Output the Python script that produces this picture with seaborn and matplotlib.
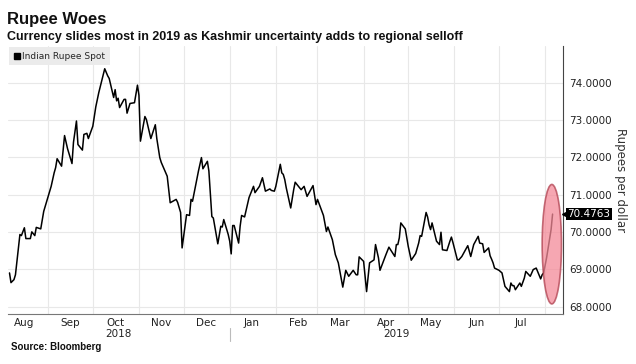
import pandas as pd
import seaborn as sns
import matplotlib.dates as mdates
from matplotlib import pyplot as plt
from matplotlib.lines import Line2D
from matplotlib.patches import Ellipse
from matplotlib.ticker import FormatStrFormatter, MultipleLocator, NullFormatter

# USD/INR spot
dates = [
    '2018-08-06', '2018-08-07', '2018-08-09', '2018-08-10', '2018-08-13', '2018-08-14', '2018-08-16',
    '2018-08-17', '2018-08-20', '2018-08-21', '2018-08-23', '2018-08-24', '2018-08-27', '2018-08-29',
    '2018-08-31',
    '2018-09-03', '2018-09-05', '2018-09-06', '2018-09-07', '2018-09-10', '2018-09-12', '2018-09-14',
    '2018-09-17', '2018-09-18', '2018-09-20', '2018-09-21', '2018-09-24', '2018-09-25', '2018-09-27',
    '2018-09-28',
    '2018-10-01', '2018-10-03', '2018-10-05', '2018-10-09', '2018-10-11', '2018-10-12', '2018-10-15',
    '2018-10-16', '2018-10-17', '2018-10-18', '2018-10-19', '2018-10-22', '2018-10-23', '2018-10-24',
    '2018-10-26', '2018-10-29', '2018-10-31',
    '2018-11-01', '2018-11-02', '2018-11-05', '2018-11-06', '2018-11-09', '2018-11-12', '2018-11-13',
    '2018-11-15', '2018-11-16', '2018-11-20', '2018-11-22', '2018-11-26', '2018-11-27', '2018-11-29',
    '2018-11-30',
    '2018-12-03', '2018-12-05', '2018-12-06', '2018-12-07', '2018-12-11', '2018-12-13', '2018-12-14',
    '2018-12-17', '2018-12-18', '2018-12-20', '2018-12-21', '2018-12-24', '2018-12-26', '2018-12-27',
    '2018-12-28', '2018-12-31',
    '2019-01-01', '2019-01-02', '2019-01-03', '2019-01-04', '2019-01-07', '2019-01-08', '2019-01-09',
    '2019-01-11', '2019-01-14', '2019-01-17', '2019-01-18', '2019-01-21', '2019-01-23', '2019-01-25',
    '2019-01-28', '2019-01-29', '2019-01-31',
    '2019-02-01', '2019-02-04', '2019-02-05', '2019-02-06', '2019-02-07', '2019-02-08', '2019-02-11',
    '2019-02-13', '2019-02-14', '2019-02-18', '2019-02-20', '2019-02-22', '2019-02-26', '2019-02-28',
    '2019-03-01', '2019-03-05', '2019-03-07', '2019-03-08', '2019-03-11', '2019-03-13', '2019-03-15',
    '2019-03-18', '2019-03-20', '2019-03-22', '2019-03-25', '2019-03-27', '2019-03-28', '2019-03-29',
    '2019-04-01', '2019-04-03', '2019-04-05', '2019-04-08', '2019-04-09', '2019-04-11', '2019-04-12',
    '2019-04-16', '2019-04-18', '2019-04-22', '2019-04-23', '2019-04-24', '2019-04-25', '2019-04-26',
    '2019-04-29',
    '2019-05-01', '2019-05-03', '2019-05-06', '2019-05-08', '2019-05-09', '2019-05-10', '2019-05-13',
    '2019-05-14', '2019-05-15', '2019-05-16', '2019-05-17', '2019-05-20', '2019-05-22', '2019-05-23',
    '2019-05-24', '2019-05-27', '2019-05-29', '2019-05-30', '2019-05-31',
    '2019-06-03', '2019-06-04', '2019-06-06', '2019-06-10', '2019-06-12', '2019-06-14', '2019-06-17',
    '2019-06-18', '2019-06-20', '2019-06-21', '2019-06-24', '2019-06-25', '2019-06-26', '2019-06-27',
    '2019-06-28',
    '2019-07-01', '2019-07-03', '2019-07-05', '2019-07-08', '2019-07-09', '2019-07-10', '2019-07-11',
    '2019-07-12', '2019-07-15', '2019-07-16', '2019-07-18', '2019-07-19', '2019-07-22', '2019-07-24',
    '2019-07-26', '2019-07-29', '2019-07-30', '2019-07-31',
    '2019-08-02', '2019-08-05', '2019-08-06',
]
rupee = [
    68.90, 68.64, 68.72, 68.85, 69.93, 69.90, 70.11, 69.82, 69.82, 70.00, 69.90, 70.12, 70.08, 70.55,
    70.82,
    71.22, 71.58, 71.72, 71.96, 71.76, 72.58, 72.23, 71.83, 72.40, 72.97, 72.34, 72.19, 72.61, 72.64,
    72.50,
    72.83, 73.35, 73.73, 74.37, 74.18, 74.11, 73.60, 73.81, 73.51, 73.58, 73.33, 73.55, 73.55, 73.18,
    73.44, 73.46, 73.93,
    73.66, 72.43, 73.09, 73.01, 72.50, 72.87, 72.50, 71.99, 71.86, 71.49, 70.78, 70.87, 70.79, 70.52,
    69.57,
    70.46, 70.44, 70.87, 70.82, 71.63, 71.99, 71.69, 71.89, 71.63, 70.41, 70.37, 69.68, 70.15, 70.13,
    70.33, 69.93,
    69.75, 69.41, 70.17, 70.17, 69.70, 70.15, 70.44, 70.40, 70.92, 71.22, 71.05, 71.22, 71.45, 71.09,
    71.15, 71.11, 71.09,
    71.22, 71.81, 71.58, 71.54, 71.40, 71.18, 70.64, 71.13, 71.33, 71.13, 71.22, 70.95, 71.24, 70.73,
    70.87, 70.44, 70.01, 70.13, 69.79, 69.39, 69.17, 68.52, 68.97, 68.81, 68.97, 68.85, 68.85, 69.33,
    69.21, 68.40, 69.17, 69.25, 69.66, 69.30, 68.97, 69.39, 69.59, 69.34, 69.66, 69.66, 69.84, 70.24,
    70.08,
    69.61, 69.24, 69.42, 69.70, 69.90, 69.88, 70.52, 70.40, 70.19, 70.06, 70.24, 69.75, 69.66, 69.99,
    69.52, 69.50, 69.75, 69.86, 69.72,
    69.25, 69.25, 69.34, 69.63, 69.34, 69.66, 69.88, 69.70, 69.68, 69.45, 69.57, 69.36, 69.27, 69.17,
    69.03,
    68.97, 68.90, 68.54, 68.40, 68.63, 68.56, 68.56, 68.45, 68.63, 68.54, 68.76, 68.94, 68.81, 68.99,
    69.03, 68.74, 68.85, 68.90,
    69.31, 70.06, 70.4763,
]
series_name = 'Indian Rupee Spot'

sns.set_style('white')
plt.rcParams['font.family'] = ['DejaVu Sans']

fig = plt.figure(figsize=(6.36, 3.64), dpi=100)
ax = fig.add_axes([0.0126, 0.1374, 0.8726, 0.7363])

data = pd.DataFrame({'date': pd.to_datetime(dates), 'rupee': rupee})
sns.lineplot(data=data, x='date', y='rupee', color='black', linewidth=1.1, ax=ax)

start, end = pd.Timestamp('2018-08-05'), pd.Timestamp('2019-08-13')
ax.set_xlim(start, end)
ax.set_ylim(67.8, 74.98)

# y axis on the right, Bloomberg style
ax.yaxis.tick_right()
ax.yaxis.set_label_position('right')
ax.yaxis.set_major_locator(MultipleLocator(1))
ax.yaxis.set_minor_locator(MultipleLocator(0.5))
ax.yaxis.set_major_formatter(FormatStrFormatter('%.4f'))
ax.set_ylabel('Rupees per dollar', rotation=270, labelpad=11, fontsize=8.5, color='#333333')
ax.set_xlabel('')

# month boundaries as ticks, month names centred in between
ax.xaxis.set_major_locator(mdates.MonthLocator())
ax.xaxis.set_major_formatter(NullFormatter())
ax.xaxis.set_minor_locator(mdates.MonthLocator(bymonthday=16))
ax.xaxis.set_minor_formatter(mdates.DateFormatter('%b'))

ax.tick_params(axis='x', which='major', length=3, color='#777777')
ax.tick_params(axis='x', which='minor', length=0, pad=3, labelsize=7.5, labelcolor='#222222')
ax.tick_params(axis='y', which='major', length=3, color='#444444', pad=1.5, labelsize=7.5,
               labelcolor='#222222')
ax.tick_params(axis='y', which='minor', length=2, color='#444444')

ax.grid(True, which='major', color='#e8e8e8', linewidth=0.8)
ax.set_axisbelow(True)
sns.despine(ax=ax, left=True, top=True, right=False, bottom=False)
ax.spines['right'].set_color('#444444')
ax.spines['bottom'].set_color('#777777')
ax.spines['right'].set_linewidth(0.8)
ax.spines['bottom'].set_linewidth(0.8)

# year labels under the months
new_year = pd.Timestamp('2019-01-01')
xt = ax.get_xaxis_transform()
ax.text(start + (new_year - start) / 2, -0.075, '2018', transform=xt, ha='center', va='center',
        fontsize=7.5, color='#222222')
ax.text(new_year + (end - new_year) / 2, -0.075, '2019', transform=xt, ha='center', va='center',
        fontsize=7.5, color='#222222')
ax.plot([new_year, new_year], [-0.052, -0.1], transform=xt, color='#bbbbbb', linewidth=0.8,
        clip_on=False)

# legend
handle = Line2D([], [], marker='s', color='black', linestyle='none', markersize=4)
ax.legend([handle], [series_name], loc='upper left', frameon=True, facecolor='#ebebeb',
          edgecolor='none', fancybox=False, framealpha=1, fontsize=6.5, handlelength=0.6,
          handletextpad=0.3, borderaxespad=0.15, borderpad=0.5)

# highlight the Kashmir selloff
ring = Ellipse((mdates.date2num(pd.Timestamp('2019-08-05 12:00')), 69.67), width=13, height=3.2,
               facecolor='#f48a98', edgecolor='#b0404f', linewidth=1.2, alpha=0.75, zorder=3)
ax.add_patch(ring)

# last value tag on the axis
yt = ax.get_yaxis_transform()
ax.text(1.008, rupee[-1], f'{rupee[-1]:.4f}', transform=yt, ha='left', va='center', fontsize=7.5,
        color='white', bbox=dict(boxstyle='square,pad=0.12', fc='black', ec='none'), zorder=5)
ax.plot([1.004], [rupee[-1]], transform=yt, marker='<', markersize=5, color='black', clip_on=False,
        zorder=5)

fig.text(0.011, 0.933, 'Rupee Woes', fontsize=12, fontweight='bold', family='Liberation Sans',
         va='baseline', color='#111111')
fig.text(0.011, 0.889, 'Currency slides most in 2019 as Kashmir uncertainty adds to regional selloff',
         fontsize=9, fontweight='bold', family='Liberation Sans', va='baseline', color='#111111')
fig.text(0.017, 0.038, 'Source: Bloomberg', fontsize=7, fontweight='bold', family='Liberation Sans',
         va='baseline', color='#111111')

fig.savefig('out.png', dpi=100)
